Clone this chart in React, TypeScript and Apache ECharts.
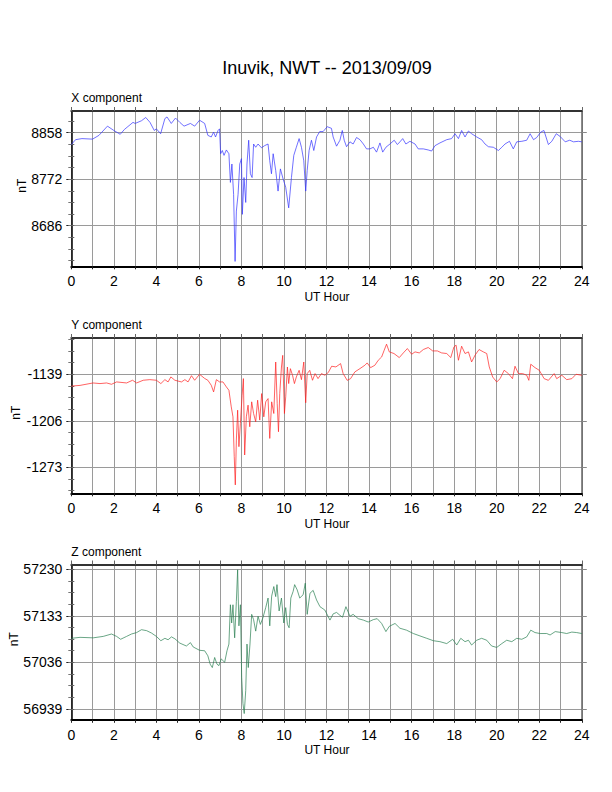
import React, { useEffect, useRef } from "react";
import * as echarts from "echarts";

const FONT = "'Liberation Sans', Arial, Helvetica, sans-serif";
const TITLE = "Inuvik, NWT -- 2013/09/09";
const PANEL_NAMES = ["X component", "Y component", "Z component"];
const X_TICK_LABELS = [0, 2, 4, 6, 8, 10, 12, 14, 16, 18, 20, 22, 24];

const hoursX = [0, 0.2, 0.5, 1.0, 1.3, 1.7, 2.0, 2.3, 2.5, 2.9, 3.0, 3.3, 3.5, 3.7, 3.9, 4.0, 4.2, 4.4, 4.5, 4.7, 4.9, 5.1, 5.3, 5.6, 5.8, 6.03, 6.27, 6.42, 6.58, 6.69, 6.78, 6.9, 6.97, 7.02, 7.1, 7.18, 7.29, 7.41, 7.48, 7.55, 7.63, 7.7, 7.76, 7.84, 7.92, 8.0, 8.04, 8.12, 8.2, 8.26, 8.34, 8.42, 8.5, 8.57, 8.67, 8.78, 8.94, 9.09, 9.25, 9.33, 9.41, 9.49, 9.61, 9.72, 9.83, 9.96, 10.08, 10.22, 10.35, 10.46, 10.58, 10.71, 10.82, 10.93, 11.02, 11.09, 11.18, 11.29, 11.4, 11.53, 11.68, 11.84, 12.03, 12.23, 12.31, 12.47, 12.63, 12.74, 12.83, 12.94, 13.1, 13.25, 13.41, 13.57, 13.73, 13.88, 14.04, 14.2, 14.35, 14.51, 14.64, 14.79, 14.98, 15.18, 15.33, 15.45, 15.58, 15.73, 15.92, 16.16, 16.31, 16.55, 16.78, 16.94, 17.1, 17.33, 17.65, 17.88, 18.04, 18.2, 18.35, 18.51, 18.67, 18.82, 19.06, 19.29, 19.45, 19.61, 19.84, 20.08, 20.24, 20.39, 20.6, 20.78, 20.94, 21.18, 21.41, 21.57, 21.73, 21.88, 22.07, 22.22, 22.43, 22.59, 22.8, 22.98, 23.22, 23.43, 23.61, 23.84, 24];
const valuesX = [8836, 8845, 8847, 8846, 8853, 8870, 8862, 8855, 8864, 8877, 8875, 8880, 8886, 8877, 8862, 8865, 8856, 8884, 8887, 8875, 8885, 8877, 8870, 8875, 8870, 8881, 8875, 8853, 8850, 8859, 8850, 8862, 8865, 8819, 8825, 8816, 8826, 8819, 8766, 8800, 8744, 8620, 8713, 8744, 8800, 8810, 8707, 8775, 8729, 8800, 8844, 8782, 8775, 8837, 8831, 8837, 8830, 8834, 8837, 8806, 8782, 8819, 8788, 8750, 8791, 8772, 8757, 8719, 8775, 8816, 8831, 8847, 8831, 8806, 8750, 8788, 8825, 8844, 8825, 8850, 8860, 8860, 8869, 8866, 8850, 8833, 8844, 8862, 8844, 8832, 8841, 8837, 8849, 8845, 8837, 8828, 8828, 8831, 8822, 8839, 8822, 8831, 8837, 8844, 8836, 8841, 8847, 8837, 8842, 8837, 8828, 8828, 8826, 8824, 8834, 8839, 8845, 8847, 8856, 8847, 8862, 8850, 8861, 8856, 8850, 8845, 8837, 8832, 8831, 8825, 8831, 8837, 8842, 8828, 8841, 8842, 8844, 8856, 8845, 8849, 8859, 8862, 8836, 8842, 8856, 8851, 8841, 8844, 8841, 8842, 8841];

const hoursY = [0, 0.41, 1.02, 1.35, 1.66, 1.89, 2.13, 2.6, 2.88, 3.07, 3.38, 3.69, 4.0, 4.21, 4.4, 4.55, 4.68, 4.87, 5.18, 5.34, 5.49, 5.65, 5.8, 6.03, 6.27, 6.42, 6.58, 6.69, 6.82, 6.97, 7.13, 7.29, 7.41, 7.52, 7.6, 7.66, 7.71, 7.76, 7.82, 7.88, 7.95, 8.03, 8.09, 8.15, 8.23, 8.31, 8.39, 8.48, 8.57, 8.67, 8.76, 8.86, 8.95, 9.05, 9.14, 9.25, 9.33, 9.42, 9.52, 9.61, 9.68, 9.74, 9.8, 9.88, 9.94, 10.02, 10.08, 10.16, 10.22, 10.3, 10.4, 10.49, 10.58, 10.71, 10.82, 10.93, 11.02, 11.09, 11.21, 11.34, 11.46, 11.6, 11.76, 11.92, 12.08, 12.24, 12.44, 12.66, 12.78, 12.97, 13.13, 13.33, 13.57, 13.8, 13.91, 14.07, 14.27, 14.43, 14.59, 14.71, 14.82, 14.95, 15.17, 15.42, 15.61, 15.8, 16.0, 16.16, 16.36, 16.55, 16.78, 16.99, 17.21, 17.41, 17.65, 17.84, 17.99, 18.09, 18.2, 18.35, 18.51, 18.67, 18.82, 18.98, 19.17, 19.37, 19.53, 19.65, 19.81, 20.0, 20.16, 20.35, 20.55, 20.74, 20.86, 21.02, 21.22, 21.41, 21.51, 21.6, 21.8, 22.0, 22.23, 22.43, 22.7, 22.82, 23.06, 23.29, 23.53, 23.73, 24];
const valuesY = [-1156, -1155, -1151.5, -1152.4, -1151.5, -1153.4, -1150, -1151.5, -1147.6, -1151.5, -1147.6, -1146.7, -1147.6, -1152.4, -1146.7, -1150, -1142.8, -1147.6, -1150, -1146.7, -1150, -1141, -1147.6, -1139, -1145, -1147.6, -1154.8, -1164.4, -1146.7, -1150, -1150, -1157.2, -1162, -1185.9, -1200.3, -1257.7, -1298.4, -1233.8, -1190.7, -1243.3, -1209.8, -1169.2, -1145.2, -1255.3, -1200.3, -1183.5, -1214.6, -1178.7, -1195.5, -1207.4, -1176.3, -1205, -1166.8, -1200.3, -1178.7, -1174, -1231.4, -1178.7, -1195.5, -1121.3, -1181.1, -1221.8, -1166.8, -1128.5, -1111.7, -1195.5, -1171.5, -1128.5, -1152.4, -1130.9, -1140.4, -1152.4, -1142.8, -1133.3, -1146.7, -1121.3, -1180, -1138, -1133.3, -1147.6, -1138, -1145.2, -1138, -1140.4, -1136.5, -1127.4, -1128.4, -1123.6, -1138, -1147.7, -1145.3, -1135.6, -1130.8, -1126, -1122.6, -1129.4, -1126, -1118.8, -1114, -1104.3, -1095.6, -1106.7, -1109.1, -1114.9, -1108.2, -1101.9, -1110.1, -1106.7, -1108.2, -1103.3, -1100.4, -1105.3, -1105.3, -1108.2, -1109.1, -1114.9, -1099.5, -1097, -1118.8, -1098.5, -1109.1, -1106.7, -1121.2, -1111.5, -1103.3, -1106.7, -1109.1, -1128.4, -1142.9, -1150.1, -1145.3, -1133.2, -1138, -1145.3, -1127.4, -1138, -1138, -1140.4, -1147.7, -1124.5, -1129.4, -1133.2, -1145.3, -1147.7, -1138, -1145.3, -1140.4, -1146.7, -1145.3, -1139, -1140.4];

const hoursZ = [0, 0.41, 1.03, 1.5, 1.89, 2.13, 2.32, 2.6, 2.83, 3.07, 3.3, 3.54, 3.77, 4.0, 4.21, 4.4, 4.55, 4.71, 4.87, 5.1, 5.41, 5.6, 5.73, 6.03, 6.27, 6.42, 6.53, 6.63, 6.74, 6.85, 6.94, 7.05, 7.21, 7.32, 7.41, 7.48, 7.54, 7.6, 7.68, 7.76, 7.82, 7.88, 7.95, 8.01, 8.07, 8.13, 8.2, 8.26, 8.32, 8.4, 8.48, 8.57, 8.67, 8.78, 8.89, 9.01, 9.14, 9.25, 9.33, 9.42, 9.52, 9.61, 9.67, 9.77, 9.88, 9.99, 10.08, 10.16, 10.24, 10.32, 10.43, 10.5, 10.62, 10.74, 10.9, 11.0, 11.09, 11.22, 11.37, 11.53, 11.69, 11.92, 12.16, 12.31, 12.47, 12.63, 12.75, 12.91, 13.1, 13.25, 13.49, 13.73, 13.96, 14.2, 14.38, 14.59, 14.79, 14.95, 15.22, 15.45, 15.76, 16.08, 16.39, 16.71, 17.02, 17.33, 17.65, 17.93, 18.12, 18.31, 18.51, 18.67, 18.82, 19.06, 19.29, 19.53, 19.76, 20.0, 20.24, 20.47, 20.71, 20.94, 21.18, 21.41, 21.6, 21.8, 22.04, 22.35, 22.51, 22.75, 23.06, 23.29, 23.53, 23.76, 24];
const valuesZ = [57086, 57088, 57087, 57090, 57095, 57090, 57084, 57090, 57095, 57098, 57104, 57102, 57097, 57090, 57081, 57086, 57083, 57089, 57085, 57076, 57070, 57077, 57068, 57061, 57060, 57049.5, 57032, 57025, 57046, 57032, 57029, 57043, 57036, 57060, 57074, 57156, 57118, 57156, 57087, 57163, 57229, 57112, 57156, 57005, 56950, 56929, 56977, 57074, 57025, 57074, 57136, 57125, 57101, 57132, 57115, 57129, 57150, 57170, 57112, 57174, 57194, 57173, 57198, 57143, 57170, 57118, 57150, 57115, 57108, 57170, 57184, 57198, 57187, 57170, 57177, 57201, 57136, 57180, 57186, 57166, 57152, 57145, 57124, 57137, 57140, 57134, 57130, 57152, 57132, 57136, 57127, 57124, 57120, 57125, 57127, 57117, 57100, 57111, 57117, 57107, 57103, 57096, 57091, 57086, 57081, 57079, 57075, 57084, 57072, 57086, 57079, 57082, 57072, 57082, 57086, 57082, 57070, 57067, 57075, 57082, 57079, 57086, 57084, 57089, 57103, 57098, 57096, 57096, 57093, 57100, 57098, 57096, 57099, 57098, 57096];

const ticksX = [8686, 8772, 8858];
const ticksY = [-1273, -1206, -1139];
const ticksZ = [56939, 57036, 57133, 57230];

const rangeX = [8611, 8898];
const rangeY = [-1310.5, -1086.7];
const rangeZ = [56916, 57240];

const PANELS = [
  { name: PANEL_NAMES[0], hours: hoursX, values: valuesX, ticks: ticksX, range: rangeX, color: "#3434ff", top: 111, nTx: 22 },
  { name: PANEL_NAMES[1], hours: hoursY, values: valuesY, ticks: ticksY, range: rangeY, color: "#ff2020", top: 338, nTx: 16 },
  { name: PANEL_NAMES[2], hours: hoursZ, values: valuesZ, ticks: ticksZ, range: rangeZ, color: "#2a7f52", top: 564.5, nTx: 14 },
];

const LEFT = 71.3;
const WIDTH = 510.5;
const HEIGHT = 155.3;

function minorTicks(ticks: number[], range: number[]) {
  const step = (ticks[1] - ticks[0]) / 4;
  const out: number[] = [];
  for (let k = -20; k <= 40; k++) {
    const v = ticks[0] + k * step;
    if (v >= range[0] && v <= range[1]) out.push(+v.toFixed(3));
  }
  return out;
}

export default function App() {
  const ref = useRef<HTMLDivElement>(null);
  useEffect(() => {
    if (!ref.current) return;
    const chart = echarts.init(ref.current, null, { renderer: "svg" });
    const grid: any[] = [];
    const xAxis: any[] = [];
    const yAxis: any[] = [];
    const series: any[] = [];
    const graphic: any[] = [];

    graphic.push({
      type: "text",
      x: 327,
      y: 68,
      style: { text: TITLE, fontSize: 18, fontFamily: FONT, fill: "#000", align: "center", verticalAlign: "middle", textAlign: "center", textVerticalAlign: "middle" },
    });

    PANELS.forEach((p, i) => {
      grid.push({ left: LEFT, top: p.top, width: WIDTH, height: HEIGHT });
      const minor = minorTicks(p.ticks, p.range);
      xAxis.push({
        type: "value", gridIndex: i, position: "bottom", min: 0, max: 24, interval: 1,
        axisLine: { show: true, onZero: false, lineStyle: { color: "#000", width: 2 } },
        axisTick: { show: true, inside: false, length: 3, lineStyle: { color: "#222", width: 1 } },
        axisLabel: {
          show: true, margin: 8, fontSize: 14, fontFamily: FONT, color: "#000",
          customValues: X_TICK_LABELS,
          formatter: (v: number) => String(v),
        },
        splitLine: { show: true, lineStyle: { color: "#9a9a9a", width: 1 } },
      });
      xAxis.push({
        type: "value", gridIndex: i, position: "top", min: 0, max: 24, interval: 1,
        axisLine: { show: true, onZero: false, lineStyle: { color: "#333", width: 2 } },
        axisTick: { show: true, inside: false, length: 4, lineStyle: { color: "#666", width: 1 } },
        axisLabel: { show: false },
        splitLine: { show: false },
      });
      const [mn, mx] = p.range;
      const base = { type: "value", gridIndex: i, min: mn, max: mx, scale: true };
      yAxis.push({
        ...base, position: "left",
        axisLine: { show: true, onZero: false, lineStyle: { color: "#000", width: 1.5 } },
        axisTick: { show: true, inside: false, length: 5, customValues: p.ticks, lineStyle: { color: "#222" } },
        axisLabel: { show: true, customValues: p.ticks, margin: 9, fontSize: 14, fontFamily: FONT, color: "#000", formatter: (v: number) => String(v) },
        splitLine: { show: true, lineStyle: { color: "#9a9a9a", width: 1 } },
      });
      yAxis.push({
        ...base, position: "left",
        axisLine: { show: false },
        axisTick: { show: true, inside: false, length: 3, customValues: minor, lineStyle: { color: "#777" } },
        axisLabel: { show: false },
        splitLine: { show: false },
      });
      yAxis.push({
        ...base, position: "right",
        axisLine: { show: true, onZero: false, lineStyle: { color: "#666", width: 1.5 } },
        axisTick: { show: true, inside: false, length: 5, customValues: p.ticks, lineStyle: { color: "#888" } },
        axisLabel: { show: false },
        splitLine: { show: false },
      });
      yAxis.push({
        ...base, position: "right",
        axisLine: { show: false },
        axisTick: { show: true, inside: false, length: 3, customValues: minor, lineStyle: { color: "#666" } },
        axisLabel: { show: false },
        splitLine: { show: false },
      });
      series.push({
        type: "line",
        xAxisIndex: i * 2,
        yAxisIndex: i * 4,
        data: p.hours.map((h, k) => [h, p.values[k]]),
        showSymbol: false,
        symbol: "none",
        clip: true,
        lineStyle: { color: p.color, width: 0.7 },
        z: 5,
      });
      graphic.push({
        type: "text", x: LEFT, y: p.top - 13,
        style: { text: p.name, fontSize: 12, fontFamily: FONT, fill: "#000", align: "left", verticalAlign: "middle", textAlign: "left", textVerticalAlign: "middle" },
      });
      graphic.push({
        type: "text", x: p.nTx, y: p.top + HEIGHT / 2 - 3, rotation: Math.PI / 2,
        style: { text: "nT", fontSize: 12, fontFamily: FONT, fill: "#000", align: "center", verticalAlign: "middle", textAlign: "center", textVerticalAlign: "middle" },
      });
      graphic.push({
        type: "text", x: 327, y: p.top + HEIGHT + 30.5,
        style: { text: "UT Hour", fontSize: 12, fontFamily: FONT, fill: "#000", align: "center", verticalAlign: "middle", textAlign: "center", textVerticalAlign: "middle" },
      });
    });

    chart.setOption({
      animation: false,
      backgroundColor: "#fff",
      textStyle: { fontFamily: FONT },
      grid,
      xAxis,
      yAxis,
      series,
      graphic,
    });
    return () => chart.dispose();
  }, []);
  return <div ref={ref} style={{ position: "fixed", left: 0, top: 0, width: 612, height: 792 }} />;
}
